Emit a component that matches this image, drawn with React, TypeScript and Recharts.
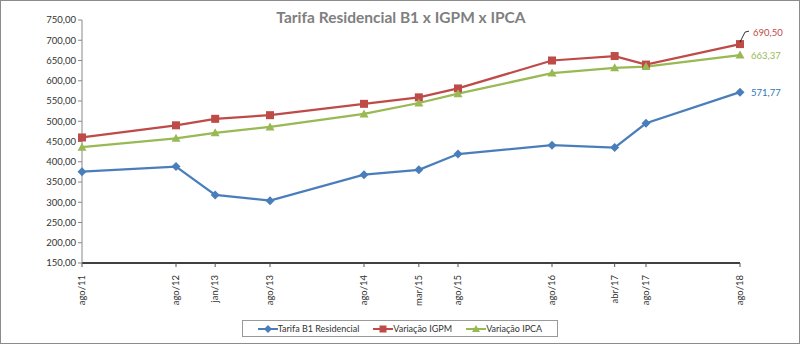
import { LineChart, Line, XAxis, YAxis, Legend, LabelList } from "recharts";

const dates = ["ago/11", "ago/12", "jan/13", "ago/13", "ago/14", "mar/15", "ago/15", "ago/16", "abr/17", "ago/17", "ago/18"];
const tarifaB1 = [375.5, 388, 318, 304, 368, 380, 419, 441, 435, 495, 571.77];
const igpm = [460, 490, 506, 515, 543, 559, 581, 650, 661, 640, 690.5];
const ipca = [436, 458, 471.5, 486, 518, 545, 568, 619, 632, 635, 663.37];
const yTicks = [150, 200, 250, 300, 350, 400, 450, 500, 550, 600, 650, 700, 750];

const monthNames = ["jan", "fev", "mar", "abr", "mai", "jun", "jul", "ago", "set", "out", "nov", "dez"];
const toMonth = (s: string) => {
  const [m, y] = s.split("/");
  return (2000 + Number(y)) * 12 + monthNames.indexOf(m);
};
const base = toMonth(dates[0]);

const data = dates.map((d, i) => ({
  t: toMonth(d) - base,
  label: d,
  tarifa: tarifaB1[i],
  igpm: igpm[i],
  ipca: ipca[i],
}));
const xTicks = data.map((d) => d.t);
const labelOf: Record<number, string> = {};
data.forEach((d) => (labelOf[d.t] = d.label));

const BLUE = "#4a7ebb";
const RED = "#be4b48";
const GREEN = "#98b954";
const FONT = "Lato, 'Noto Sans', sans-serif";

const fmt = (v: number) => v.toFixed(2).replace(".", ",");

const Diamond = (p: any) => {
  const { cx, cy } = p;
  if (cx == null) return null;
  return <path d={`M${cx},${cy - 4.5}L${cx + 4.5},${cy}L${cx},${cy + 4.5}L${cx - 4.5},${cy}Z`} fill={BLUE} />;
};
const Square = (p: any) => {
  const { cx, cy } = p;
  if (cx == null) return null;
  return <rect x={cx - 4} y={cy - 4} width={8} height={8} fill={RED} />;
};
const Triangle = (p: any) => {
  const { cx, cy } = p;
  if (cx == null) return null;
  return <path d={`M${cx},${cy - 4.5}L${cx + 4.5},${cy + 3.5}L${cx - 4.5},${cy + 3.5}Z`} fill={GREEN} />;
};

const lastLabel = (color: string, leader: boolean) => (p: any) => {
  const { x, y, value, index } = p;
  if (index !== data.length - 1) return null;
  if (leader) {
    return (
      <g>
        <path d={`M${x},${y - 2}L${x + 5},${y - 12}L${x + 9},${y - 13}`} stroke="#000" fill="none" strokeWidth={0.8} />
        <text x={x + 13} y={y - 12} dominantBaseline="central" fontSize={9.5} fill={color} fontFamily={FONT}>
          {fmt(value)}
        </text>
      </g>
    );
  }
  return (
    <text x={x + 11} y={y} dominantBaseline="central" fontSize={9.5} fill={color} fontFamily={FONT}>
      {fmt(value)}
    </text>
  );
};

const XTick = (p: any) => {
  const { x, y, payload } = p;
  return (
    <g transform={`translate(${x},${y})`}>
      <text transform="rotate(-90)" x={-6} y={3} textAnchor="end" fontSize={9.5} fill="#333" fontFamily={FONT}>
        {labelOf[payload.value]}
      </text>
    </g>
  );
};

const LegendBox = () => {
  const items = [
    { name: "Tarifa B1 Residencial", color: BLUE, shape: "d" },
    { name: "Variação IGPM", color: RED, shape: "s" },
    { name: "Variação IPCA", color: GREEN, shape: "t" },
  ];
  return (
    <div
      style={{
        border: "1px solid #999",
        height: 17,
        boxSizing: "border-box",
        display: "flex",
        alignItems: "center",
        justifyContent: "center",
        gap: 14,
        fontFamily: FONT,
        fontSize: 9,
        color: "#333",
      }}
    >
      {items.map((it) => (
        <div key={it.name} style={{ display: "flex", alignItems: "center" }}>
          <svg width={20} height={10}>
            <line x1={0} y1={5} x2={20} y2={5} stroke={it.color} strokeWidth={2} />
            {it.shape === "d" && <path d="M10,1L14,5L10,9L6,5Z" fill={it.color} />}
            {it.shape === "s" && <rect x={6.5} y={1.5} width={7} height={7} fill={it.color} />}
            {it.shape === "t" && <path d="M10,1L14,8L6,8Z" fill={it.color} />}
          </svg>
          <span>{it.name}</span>
        </div>
      ))}
    </div>
  );
};

export default function App() {
  return (
    <div
      style={{
        position: "absolute",
        left: 0,
        top: 0,
        width: 800,
        height: 344,
        border: "1px solid #8c8c8c",
        boxSizing: "border-box",
        background: "#fff",
      }}
    >
      <div
        style={{
          position: "absolute",
          top: 7,
          left: 0,
          width: 800,
          textAlign: "center",
          fontFamily: FONT,
          fontWeight: 700,
          fontSize: 15.5,
          color: "#7f7f7f",
        }}
      >
        Tarifa Residencial B1 x IGPM x IPCA
      </div>
      <div style={{ position: "absolute", left: -1, top: -1 }}>
        <LineChart width={800} height={344} data={data} margin={{ top: 20, right: 60, bottom: 0, left: 0 }}>
          <XAxis
            dataKey="t"
            type="number"
            domain={[0, 84]}
            ticks={xTicks}
            interval={0}
            tick={<XTick />}
            height={64}
            axisLine={{ stroke: "#000", strokeWidth: 1.5 }}
            tickLine={{ stroke: "#555" }}
            tickSize={4}
          />
          <YAxis
            domain={[150, 750]}
            ticks={yTicks}
            interval={0}
            width={82}
            tickFormatter={fmt}
            tick={{ fontSize: 9.5, fill: "#333", fontFamily: FONT }}
            axisLine={{ stroke: "#888" }}
            tickLine={{ stroke: "#888" }}
            tickSize={4}
            tickMargin={2}
          />
          <Legend
            content={<LegendBox />}
            wrapperStyle={{ position: "absolute", left: 242, top: 320, width: 316, height: 17 }}
          />
          <Line dataKey="tarifa" name="Tarifa B1 Residencial" stroke={BLUE} strokeWidth={2.25} dot={<Diamond />} isAnimationActive={false}>
            <LabelList dataKey="tarifa" content={lastLabel("#2e75b6", false)} />
          </Line>
          <Line dataKey="igpm" name="Variação IGPM" stroke={RED} strokeWidth={2.25} dot={<Square />} isAnimationActive={false}>
            <LabelList dataKey="igpm" content={lastLabel(RED, true)} />
          </Line>
          <Line dataKey="ipca" name="Variação IPCA" stroke={GREEN} strokeWidth={2.25} dot={<Triangle />} isAnimationActive={false}>
            <LabelList dataKey="ipca" content={lastLabel(GREEN, false)} />
          </Line>
        </LineChart>
      </div>
    </div>
  );
}
